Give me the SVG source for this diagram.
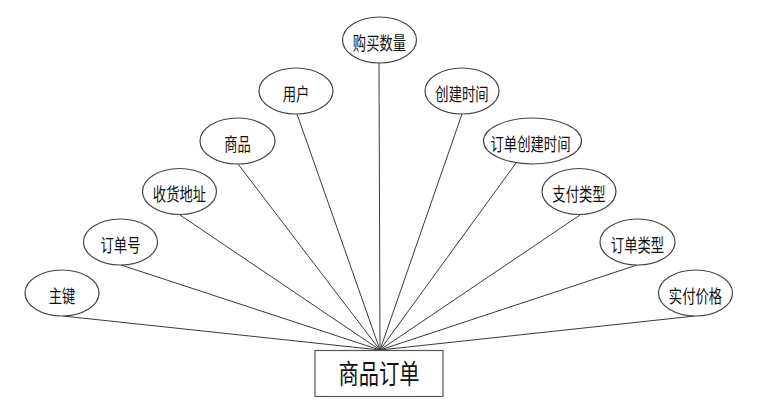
<svg xmlns="http://www.w3.org/2000/svg" width="759" height="417" viewBox="0 0 759 417">
<style>
.bg{fill:#ffffff}
.attr ellipse{fill:#ffffff;stroke:#444444;stroke-width:1.2}
.ent rect{fill:#ffffff;stroke:#555555;stroke-width:1.2}
.conn line{stroke:#3a3a3a;stroke-width:1}
text{font-family:"Noto Sans CJK SC","Noto Sans CJK JP",sans-serif;fill:#111111;text-anchor:middle}
.t{font-size:18px}
.big{font-size:27px}
</style>
<rect class="bg" x="0" y="0" width="759" height="417"/>
<g id="connectors" class="conn">
<line x1="379" y1="63" x2="380" y2="350"/>
<line x1="297" y1="114" x2="380" y2="350"/>
<line x1="238" y1="164" x2="380" y2="350"/>
<line x1="180" y1="215" x2="380" y2="350"/>
<line x1="121" y1="265" x2="380" y2="350"/>
<line x1="63" y1="316" x2="380" y2="350"/>
<line x1="462" y1="114" x2="380" y2="350"/>
<line x1="516" y1="163" x2="380" y2="350"/>
<line x1="580" y1="215" x2="380" y2="350"/>
<line x1="637" y1="265" x2="380" y2="350"/>
<line x1="695" y1="316" x2="380" y2="350"/>
</g>
<g id="entity" class="ent">
<rect x="315" y="350.5" width="128" height="46"/>
<text class="big" transform="translate(379,384) scale(0.75,1)">商品订单</text>
</g>
<g id="attr-goumaishuliang" class="attr">
<ellipse cx="379.5" cy="40" rx="37" ry="23"/>
<text class="t" transform="translate(379.5,49.5) scale(0.74,1)">购买数量</text>
</g>
<g id="attr-yonghu" class="attr">
<ellipse cx="296" cy="91" rx="37" ry="23"/>
<text class="t" transform="translate(296,100.5) scale(0.74,1)">用户</text>
</g>
<g id="attr-shangpin" class="attr">
<ellipse cx="237.5" cy="141" rx="37.5" ry="23"/>
<text class="t" transform="translate(237.5,150.5) scale(0.74,1)">商品</text>
</g>
<g id="attr-shouhuodizhi" class="attr">
<ellipse cx="179.5" cy="191.5" rx="37" ry="23"/>
<text class="t" transform="translate(179.5,201) scale(0.74,1)">收货地址</text>
</g>
<g id="attr-dingdanhao" class="attr">
<ellipse cx="120.5" cy="242" rx="37" ry="23"/>
<text class="t" transform="translate(120.5,251.5) scale(0.74,1)">订单号</text>
</g>
<g id="attr-zhujian" class="attr">
<ellipse cx="62" cy="293" rx="37" ry="23"/>
<text class="t" transform="translate(62,302.5) scale(0.74,1)">主键</text>
</g>
<g id="attr-chuangjianshijian" class="attr">
<ellipse cx="462" cy="91" rx="37" ry="23"/>
<text class="t" transform="translate(462,100.5) scale(0.74,1)">创建时间</text>
</g>
<g id="attr-dingdanchuangjianshijian" class="attr">
<ellipse cx="532.5" cy="141" rx="49" ry="23"/>
<text class="t" transform="translate(530.5,150.5) scale(0.74,1)">订单创建时间</text>
</g>
<g id="attr-zhifuleixing" class="attr">
<ellipse cx="579" cy="191.5" rx="37" ry="23"/>
<text class="t" transform="translate(579,201) scale(0.74,1)">支付类型</text>
</g>
<g id="attr-dingdanleixing" class="attr">
<ellipse cx="637.5" cy="242" rx="37.5" ry="23"/>
<text class="t" transform="translate(637.5,251.5) scale(0.74,1)">订单类型</text>
</g>
<g id="attr-shifujiage" class="attr">
<ellipse cx="695.5" cy="293" rx="37" ry="23"/>
<text class="t" transform="translate(695.5,302.5) scale(0.74,1)">实付价格</text>
</g>
</svg>
